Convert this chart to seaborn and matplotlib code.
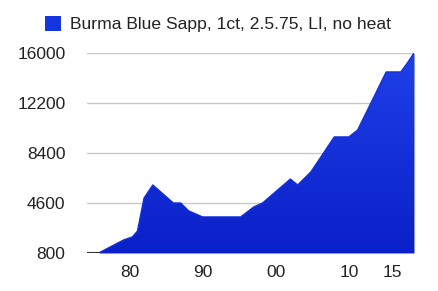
import numpy as np
import pandas as pd
import matplotlib
matplotlib.use("Agg")
import matplotlib.pyplot as plt
from matplotlib.patches import Patch
import seaborn as sns

# ---- data ----
years = [1974.2, 1975.8, 1979.2, 1980.4, 1981.1, 1982.0, 1983.2, 1986.0, 1987.0,
         1988.1, 1990.0, 1995.2, 1997.0, 1998.2, 2002.0, 2003.0, 2004.8, 2008.0,
         2010.0, 2011.2, 2015.1, 2017.1, 2018.0, 2018.9]
prices = [800, 800, 1790, 2020, 2470, 4980, 5970, 4600, 4600,
          4000, 3540, 3540, 4300, 4600, 6420, 5970, 6960, 9620,
          9620, 10150, 14560, 14560, 15240, 16000]
series_label = "Burma Blue Sapp, 1ct, 2.5.75, LI, no heat"
y_ticks = [800, 4600, 8400, 12200, 16000]
x_tick_pos = [1980, 1990, 2000, 2010, 2016]
x_tick_labels = ["80", "90", "00", "10", "15"]

df = pd.DataFrame({"year": years, "price": prices})

sns.set_theme(style="white")
plt.rcParams["font.family"] = ["Liberation Sans", "DejaVu Sans"]

fig = plt.figure(figsize=(4.39, 2.91), dpi=100)
ax = fig.add_axes([87 / 439, 1 - 253 / 291, (414 - 87) / 439, 200 / 291])

ymin, ymax = 800, 16000
xmin, xmax = min(years), max(years)

# gridlines
ax.set_yticks(y_ticks)
ax.yaxis.grid(True, color="#c8c8c8", linewidth=1.0)
ax.set_axisbelow(True)

# area with vertical gradient
poly = ax.fill_between(df["year"], df["price"], ymin, color="#1232dc", linewidth=0, zorder=2)
grad = np.linspace(0, 1, 256).reshape(-1, 1)
cmap = matplotlib.colors.LinearSegmentedColormap.from_list("g", ["#0a20c8", "#1f40ea"])
im = ax.imshow(grad, extent=[xmin, xmax, ymin, ymax], origin="lower", aspect="auto",
               cmap=cmap, zorder=3)
path = poly.get_paths()[0]
im.set_clip_path(path, transform=ax.transData)

sns.lineplot(data=df, x="year", y="price", ax=ax, color="#1530d8", linewidth=1.0,
             zorder=4, legend=False)
ax.plot([xmin, 1975.8], [ymin, ymin], color="#333333", linewidth=1.5, zorder=5)

ax.set_xlim(xmin, xmax)
ax.set_ylim(ymin, ymax)
ax.set_xticks(x_tick_pos)
ax.set_xticklabels(x_tick_labels)
ax.set_yticklabels([str(v) for v in y_ticks])
ax.tick_params(axis="both", length=0, labelsize=12.5, colors="#222222")
ax.tick_params(axis="y", pad=15.5)
ax.tick_params(axis="x", pad=8.5)
ax.set_xlabel("")
ax.set_ylabel("")
for s in ax.spines.values():
    s.set_visible(False)

handle = Patch(facecolor="#1535e0", edgecolor="none")
fig.legend([handle], [series_label], loc="center", bbox_to_anchor=(0.497, 0.917),
           frameon=False, fontsize=12.6, handlelength=0.9, handleheight=0.9,
           handletextpad=0.55, labelcolor="#222222")

fig.savefig("out.png", dpi=100)
